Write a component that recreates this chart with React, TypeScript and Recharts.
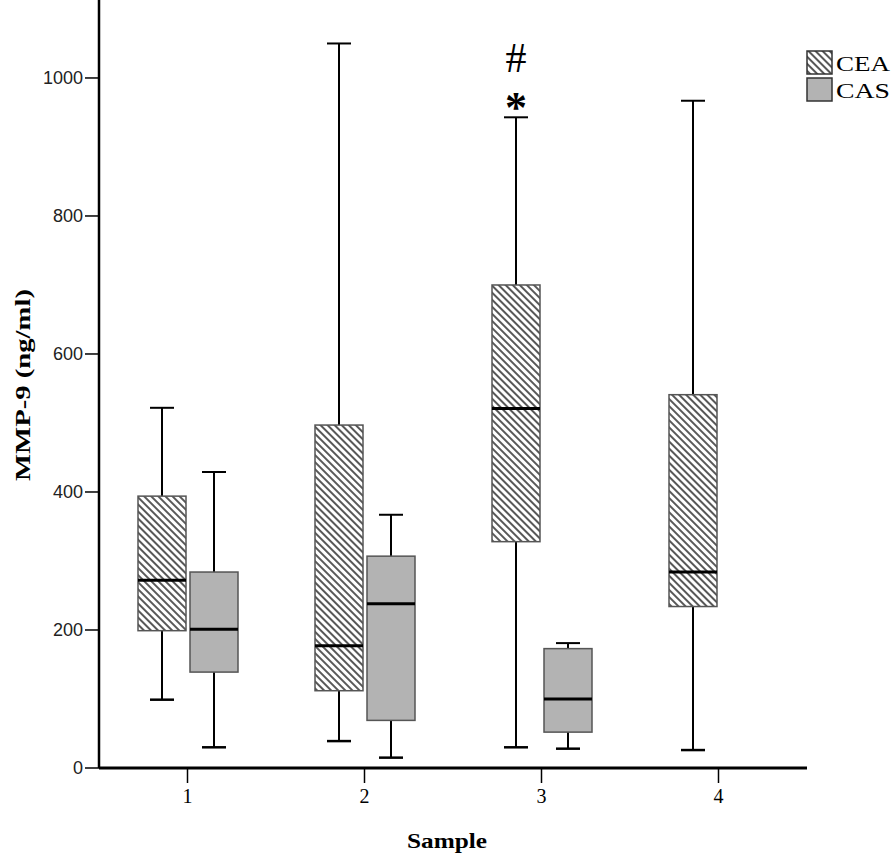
import React from 'react';
import { ComposedChart, Bar, XAxis, YAxis } from 'recharts';

const samples = ['1', '2', '3', '4'];

// CEA box stats
const ceaMin = [99, 39, 30, 26];
const ceaQ1 = [199, 112, 328, 234];
const ceaMed = [272, 177, 521, 284];
const ceaQ3 = [394, 497, 700, 541];
const ceaMax = [522, 1050, 943, 967];

// CAS box stats (no CAS group for sample 4)
const casMin = [30, 15, 28, null];
const casQ1 = [139, 69, 52, null];
const casMed = [201, 238, 100, null];
const casQ3 = [284, 307, 173, null];
const casMax = [429, 367, 181, null];

const marks = ['', '', '#', ''];
const stars = ['', '', '*', ''];

const yTicks = [0, 200, 400, 600, 800, 1000];

const data = samples.map((s, i) => ({
  sample: s,
  cea: { min: ceaMin[i], q1: ceaQ1[i], med: ceaMed[i], q3: ceaQ3[i], max: ceaMax[i] },
  cas: casMin[i] == null ? null : { min: casMin[i], q1: casQ1[i], med: casMed[i], q3: casQ3[i], max: casMax[i] },
  mark: marks[i],
  star: stars[i],
}));

const HatchDef = ({ id }: { id: string }) => (
  <defs>
    <pattern id={id} patternUnits="userSpaceOnUse" width="5" height="5" patternTransform="rotate(-45)">
      <rect width="5" height="5" fill="#fff" />
      <line x1="1" y1="0" x2="1" y2="5" stroke="#111" strokeWidth="1.4" />
    </pattern>
  </defs>
);

const BoxShape = (props: any) => {
  const { x, y, width, height, payload, series, index } = props;
  const st = payload[series];
  if (!st || height == null || isNaN(height)) return null;
  const unit = height / (st.max - st.min);
  const yOf = (v: number) => y + (st.max - v) * unit;
  const cx = x + width / 2;
  const cap = 12;
  const id = `hatch-${series}-${index}`;
  const top = yOf(st.max);
  return (
    <g>
      {series === 'cea' && <HatchDef id={id} />}
      <line x1={cx} x2={cx} y1={top} y2={yOf(st.q3)} stroke="#000" strokeWidth={2} />
      <line x1={cx} x2={cx} y1={yOf(st.q1)} y2={yOf(st.min)} stroke="#000" strokeWidth={2} />
      <line x1={cx - cap} x2={cx + cap} y1={top} y2={top} stroke="#000" strokeWidth={2} />
      <line x1={cx - cap} x2={cx + cap} y1={yOf(st.min)} y2={yOf(st.min)} stroke="#000" strokeWidth={2.5} />
      <rect
        x={x}
        y={yOf(st.q3)}
        width={width}
        height={yOf(st.q1) - yOf(st.q3)}
        fill={series === 'cea' ? `url(#${id})` : '#b3b3b3'}
        stroke="#555"
        strokeWidth={1.5}
      />
      <line x1={x} x2={x + width} y1={yOf(st.med)} y2={yOf(st.med)} stroke="#000" strokeWidth={3} />
      {series === 'cea' && payload.mark && (
        <text x={cx} y={top - 45} textAnchor="middle" fontFamily="Liberation Serif" fontSize={42} fill="#000">
          {payload.mark}
        </text>
      )}
      {series === 'cea' && payload.star && (
        <text x={cx} y={top + 5} textAnchor="middle" fontFamily="Liberation Serif" fontWeight="bold" fontSize={44} fill="#000">
          {payload.star}
        </text>
      )}
    </g>
  );
};

const LegendBox = () => (
  <svg width={88} height={56} style={{ position: 'absolute', left: 806, top: 50 }}>
    <HatchDef id="hatch-legend" />
    <rect x={1} y={1} width={25} height={23} fill="url(#hatch-legend)" stroke="#333" strokeWidth={1.5} />
    <rect x={1} y={28} width={25} height={23} fill="#b3b3b3" stroke="#333" strokeWidth={1.5} />
    <text x={30} y={21} fontFamily="Liberation Serif" fontSize={21} textLength={54} lengthAdjust="spacingAndGlyphs" fill="#000">CEA</text>
    <text x={30} y={48} fontFamily="Liberation Serif" fontSize={21} textLength={54} lengthAdjust="spacingAndGlyphs" fill="#000">CAS</text>
  </svg>
);

const YTitle = () => (
  <text
    x={22}
    y={385}
    transform="rotate(-90 22 385)"
    textAnchor="middle"
    dominantBaseline="central"
    fontFamily="Liberation Serif"
    fontWeight="bold"
    fontSize={22}
    textLength={192}
    lengthAdjust="spacingAndGlyphs"
    fill="#000"
  >
    MMP-9 (ng/ml)
  </text>
);

const XTitle = () => (
  <text
    x={447}
    y={848}
    textAnchor="middle"
    fontFamily="Liberation Serif"
    fontWeight="bold"
    fontSize={22}
    textLength={80}
    lengthAdjust="spacingAndGlyphs"
    fill="#000"
  >
    Sample
  </text>
);

export default function App() {
  return (
    <div style={{ position: 'absolute', left: 0, top: 0, width: 894, height: 857, background: '#fff' }}>
      <ComposedChart
        width={894}
        height={857}
        data={data}
        margin={{ top: 0, right: 87, bottom: 0, left: 0 }}
        barSize={48}
        barGap={4}
      >
        <XAxis
          dataKey="sample"
          height={89}
          tickSize={15}
          tickMargin={6}
          axisLine={{ stroke: '#000', strokeWidth: 3 }}
          tickLine={{ stroke: '#000', strokeWidth: 1.5 }}
          tick={{ fontFamily: 'Liberation Serif', fontSize: 20, fill: '#000' }}
          label={<XTitle />}
        />
        <YAxis
          type="number"
          domain={[0, 1113]}
          ticks={yTicks}
          width={99}
          tickSize={14}
          tickMargin={2}
          axisLine={{ stroke: '#000', strokeWidth: 2.5 }}
          tickLine={{ stroke: '#000', strokeWidth: 1.5 }}
          tick={{ fontFamily: 'Liberation Sans', fontSize: 18, fill: '#222' }}
          label={<YTitle />}
        />
        <Bar
          dataKey={(d: any) => [d.cea.min, d.cea.max]}
          name="CEA"
          isAnimationActive={false}
          shape={(p: any) => <BoxShape {...p} series="cea" />}
        />
        <Bar
          dataKey={(d: any) => (d.cas ? [d.cas.min, d.cas.max] : null)}
          name="CAS"
          isAnimationActive={false}
          shape={(p: any) => <BoxShape {...p} series="cas" />}
        />
      </ComposedChart>
      <LegendBox />
    </div>
  );
}
